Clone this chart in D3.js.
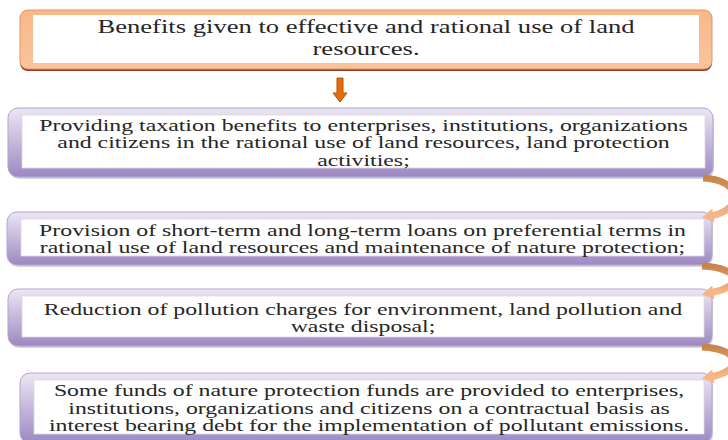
<!DOCTYPE html>
<html>
<head>
<meta charset="utf-8">
<script src="https://cdn.jsdelivr.net/npm/d3@7"></script>
<style>
  html, body { margin: 0; padding: 0; background: #fff; }
  svg { display: block; }
</style>
</head>
<body>
<svg id="chart"></svg>
<script>
// Texts of the scheme
const headerLines = [
    "Benefits given to effective and rational use of land",
    "resources."
];

const itemLines = [
    ["Providing taxation benefits to enterprises, institutions, organizations",
     "and citizens in the rational use of land resources, land protection",
     "activities;"],
    ["Provision of short-term and long-term loans on preferential terms in",
     "rational use of land resources and maintenance of nature protection;"],
    ["Reduction of pollution charges for environment, land pollution and",
     "waste disposal;"],
    ["Some funds of nature protection funds are provided to enterprises,",
     "institutions, organizations and citizens on a contractual basis as",
     "interest bearing debt for the implementation of pollutant emissions."]
];

const width = 728;
const height = 440;
const svg = d3.select("#chart").attr("width", width).attr("height", height);

// Box frames (layout)
const header = { x0: 20, y0: 10, x1: 712, y1: 69 };
const boxes = [
    { x0: 8, y0: 108, x1: 713, y1: 177 },
    { x0: 7, y0: 212, x1: 712, y1: 265 },
    { x0: 8, y0: 289, x1: 712, y1: 346 },
    { x0: 20, y0: 373, x1: 712, y1: 443 }
];

const stretch = 1.4; // the source picture is stretched sideways
const defs = svg.append("defs");

const purple = defs.append("linearGradient").attr("id", "purple")
    .attr("x1", 0).attr("y1", 0).attr("x2", 0).attr("y2", 1);
purple.append("stop").attr("offset", "0%").attr("stop-color", "#ece7f3");
purple.append("stop").attr("offset", "100%").attr("stop-color", "#9c88c2");

const orange = defs.append("linearGradient").attr("id", "orange")
    .attr("x1", 0).attr("y1", 0).attr("x2", 0).attr("y2", 1);
orange.append("stop").attr("offset", "0%").attr("stop-color", "#f7b88a");
orange.append("stop").attr("offset", "100%").attr("stop-color", "#f9c59b");

const tan = defs.append("linearGradient").attr("id", "tan")
    .attr("x1", 0).attr("y1", 0).attr("x2", 0).attr("y2", 1);
tan.append("stop").attr("offset", "0%").attr("stop-color", "#c9844c");
tan.append("stop").attr("offset", "100%").attr("stop-color", "#f6b98a");

defs.append("marker")
    .attr("id", "head")
    .attr("viewBox", "0 -6 10 12")
    .attr("refX", 3)
    .attr("refY", 0)
    .attr("orient", "auto")
    .attr("markerUnits", "userSpaceOnUse")
    .attr("markerWidth", 12)
    .attr("markerHeight", 14)
    .append("path")
    .attr("d", "M0,-6L10,0L0,6Z")
    .style("fill", "#f5b688");

function drawLines(lines, cx, cy, size, lh) {
    const top = cy - (lines.length - 1) * lh / 2;
    lines.forEach((t, i) => {
        svg.append("text")
            .attr("transform", `translate(${cx},${top + i * lh + size * 0.34}) scale(${stretch},1)`)
            .attr("text-anchor", "middle")
            .style("font-family", "'Liberation Serif', 'Times New Roman', serif")
            .style("font-size", size + "px")
            .style("fill", "#262626")
            .text(t);
    });
}

// Header box (orange)
svg.append("rect")
    .attr("x", header.x0).attr("y", header.y0 + 2)
    .attr("width", header.x1 - header.x0).attr("height", header.y1 - header.y0)
    .attr("rx", 8).style("fill", "#8e3a26");
svg.append("rect")
    .attr("x", header.x0).attr("y", header.y0)
    .attr("width", header.x1 - header.x0).attr("height", header.y1 - header.y0)
    .attr("rx", 8).style("fill", "url(#orange)")
    .style("stroke", "#e0946a").style("stroke-width", 1);
svg.append("rect")
    .attr("x", header.x0 + 13).attr("y", header.y0 + 5)
    .attr("width", header.x1 - header.x0 - 26).attr("height", header.y1 - header.y0 - 11)
    .style("fill", "#fff");
drawLines(headerLines, (header.x0 + header.x1) / 2, (header.y0 + 5 + header.y1 - 6) / 2 - 1, 19, 22);

// Down arrow
const ax = 340;
svg.append("path")
    .attr("d", `M${ax - 3},78 L${ax + 3},78 L${ax + 3},93 L${ax + 7},93 L${ax},102 L${ax - 7},93 L${ax - 3},93 Z`)
    .style("fill", "#e46c0a")
    .style("stroke", "#b5540a")
    .style("stroke-width", 1);

// Purple boxes
boxes.forEach((b, i) => {
    svg.append("rect")
        .attr("x", b.x0 + 1).attr("y", b.y0 + 2)
        .attr("width", b.x1 - b.x0).attr("height", b.y1 - b.y0)
        .attr("rx", 10).style("fill", "#c8c2d2").style("opacity", 0.7);
    svg.append("rect")
        .attr("x", b.x0).attr("y", b.y0)
        .attr("width", b.x1 - b.x0).attr("height", b.y1 - b.y0)
        .attr("rx", 10).style("fill", "url(#purple)")
        .style("stroke", "#b3a4cf").style("stroke-width", 1);
    const ix0 = b.x0 + 14, ix1 = b.x1 - 8, iy0 = b.y0 + 7, iy1 = b.y1 - 9;
    svg.append("rect")
        .attr("x", ix0).attr("y", iy0)
        .attr("width", ix1 - ix0).attr("height", iy1 - iy0)
        .style("fill", "#fff")
        .style("stroke", "#ddd8e6").style("stroke-width", 0.8);
    drawLines(itemLines[i], (ix0 + ix1) / 2, (iy0 + iy1) / 2 + 1, 17, 17.5);
});

// Curved arrows on the right between the boxes
for (let i = 0; i < boxes.length - 1; i++) {
    const a = boxes[i], b = boxes[i + 1];
    const sx = a.x1 - 10, sy = a.y1 + 1;
    const ex = b.x1 - 2, ey = b.y0 + 4;
    const p = d3.path();
    p.moveTo(sx, sy);
    p.bezierCurveTo(sx + 40, sy + 2, sx + 42, ey - 6, ex, ey);
    svg.append("path")
        .attr("d", p.toString())
        .style("fill", "none")
        .style("stroke", "url(#tan)")
        .style("stroke-width", 7)
        .attr("marker-end", "url(#head)");
}
</script>
</body>
</html>
